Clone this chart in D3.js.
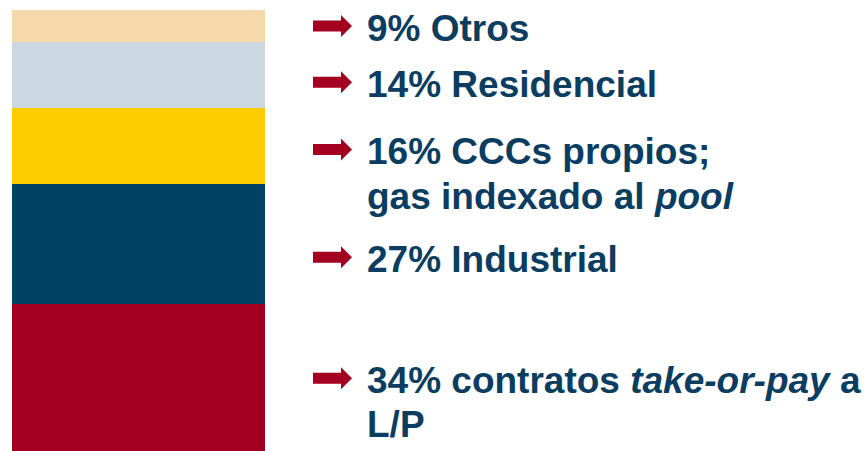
<!DOCTYPE html>
<html>
<head>
  <meta charset="utf-8">
  <title>Gas: reparto de la demanda</title>
  <style>
    html, body { margin: 0; padding: 0; background: #fff; }
    svg { display: block; }
    .label { font-family: "Liberation Sans", Arial, sans-serif; font-weight: bold; font-size: 37px; fill: #0a3d5f; }
  </style>
</head>
<body>
  <svg id="chart"></svg>

  <script src="https://d3js.org/d3.v7.min.js"></script>
  <script>
    // Datos (de abajo hacia arriba en la barra)
    const categories = ["take-or-pay", "Industrial", "CCCs", "Residencial", "Otros"];
    const pctLabels = [34, 27, 16, 14, 9];
    // alto de cada tramo tal como se ve en la barra (%)
    const barShares = [33.3, 27.2, 17.2, 15.0, 7.3];
    const colors = ["#a30021", "#024166", "#ffcc00", "#cbd8e1", "#f5d9aa"];

    // Texto de cada etiqueta: lineas -> trozos [texto, cursiva]
    const labelLines = [
      [[["34% contratos ", false], ["take-or-pay", true], [" a", false]], [["L/P", false]]],
      [[["27% Industrial", false]]],
      [[["16% CCCs propios;", false]], [["gas indexado al ", false], ["pool", true]]],
      [[["14% Residencial", false]]],
      [[["9% Otros", false]]]
    ];
    // linea base de la primera linea de cada etiqueta
    const labelBaselines = [392.7, 271.7, 164, 96.7, 40.5];

    const width = 868;
    const height = 451;
    const barLeft = 12, barRight = 265;
    const arrowX = 313, textX = 367, lineGap = 44.5;

    const svg = d3.select("#chart")
      .attr("width", width)
      .attr("height", height);

    const y = d3.scaleLinear().domain([0, 100]).range([451, 10]);

    // apilar tramos
    const rows = categories.map((c, i) => ({ cat: c, share: barShares[i], color: colors[i] }));
    let acc = 0;
    rows.forEach(d => { d.y0 = acc; acc += d.share; d.y1 = acc; });

    svg.selectAll(".seg")
      .data(rows)
      .enter().append("rect")
      .attr("class", "seg")
      .attr("x", barLeft)
      .attr("width", barRight - barLeft)
      .attr("y", d => y(d.y1))
      .attr("height", d => y(d.y0) - y(d.y1))
      .attr("fill", d => d.color)
      .attr("shape-rendering", "crispEdges");

    // flechas
    const arrowPath = (cx, cy) => {
      const x0 = cx, x1 = cx + 28, x2 = cx + 39;
      return `M${x0},${cy - 5.5}H${x1}V${cy - 11}L${x2},${cy}L${x1},${cy + 11}V${cy + 5.5}H${x0}Z`;
    };

    const labels = svg.selectAll(".lab")
      .data(rows.map((d, i) => ({ ...d, pct: pctLabels[i], lines: labelLines[i], base: labelBaselines[i] })))
      .enter().append("g")
      .attr("class", "lab");

    labels.append("path")
      .attr("d", d => arrowPath(arrowX, d.base - 14.5))
      .attr("fill", "#a30021");

    labels.each(function(d) {
      const t = d3.select(this).append("text")
        .attr("class", "label")
        .attr("x", textX)
        .attr("y", d.base);
      d.lines.forEach((line, li) => {
        line.forEach((part, pi) => {
          const ts = t.append("tspan")
            .text(part[0])
            .style("font-style", part[1] ? "italic" : "normal")
            .attr("xml:space", "preserve");
          if (pi === 0) ts.attr("x", textX).attr("y", d.base + li * lineGap);
        });
      });
    });
  </script>
</body>
</html>
